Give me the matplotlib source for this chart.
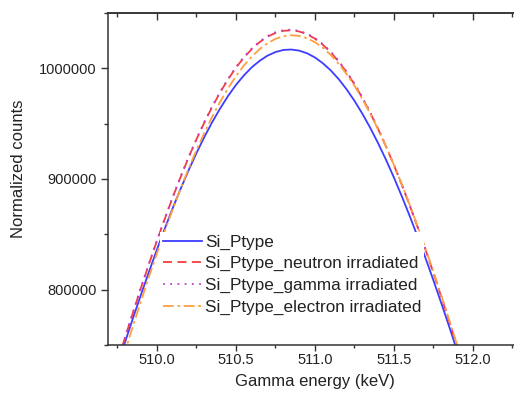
import matplotlib
matplotlib.use("Agg")
import matplotlib.pyplot as plt
from matplotlib.ticker import MultipleLocator, FormatStrFormatter

plt.rcParams['font.family'] = ['Liberation Sans', 'DejaVu Sans']

# gamma energy grid (keV)
energy = [509.70, 509.75, 509.80, 509.85, 509.90, 509.95, 510.00, 510.05,
          510.10, 510.15, 510.20, 510.25, 510.30, 510.35, 510.40, 510.45,
          510.50, 510.55, 510.60, 510.65, 510.70, 510.75, 510.80, 510.85,
          510.90, 510.95, 511.00, 511.05, 511.10, 511.15, 511.20, 511.25,
          511.30, 511.35, 511.40, 511.45, 511.50, 511.55, 511.60, 511.65,
          511.70, 511.75, 511.80, 511.85, 511.90, 511.95, 512.00]

si_ptype = [709300, 731500, 753500, 775100, 796000, 816400, 836300, 855400,
            873800, 891200, 907800, 923400, 938000, 951500, 963800, 975000,
            985000, 993600, 1000900, 1006800, 1011500, 1014700, 1016600, 1017000,
            1016000, 1013600, 1009800, 1004600, 998100, 990300, 981100, 970700,
            959000, 946200, 932300, 917300, 901300, 884300, 866500, 847900,
            828500, 808400, 787700, 766500, 744800, 722700, 700300]

si_neutron = [711600, 734700, 757700, 780100, 802200, 823500, 844300, 864200,
              883600, 901900, 919400, 935800, 951100, 965300, 978300, 990000,
              1000600, 1009700, 1017400, 1023700, 1028600, 1032000, 1033900, 1034400,
              1033300, 1030800, 1026800, 1021300, 1014500, 1006200, 996500, 985600,
              973300, 959700, 945100, 929300, 912400, 894700, 875900, 856400,
              836000, 815000, 793400, 771200, 748600, 725500, 702200]

si_gamma = [712000, 735100, 758100, 780600, 802700, 824000, 844800, 864700,
            884100, 902400, 919900, 936300, 951700, 965900, 978900, 990600,
            1001200, 1010300, 1018000, 1024300, 1029200, 1032600, 1034500, 1035000,
            1033900, 1031400, 1027400, 1021900, 1015100, 1006800, 997100, 986200,
            973900, 960300, 945600, 929800, 912900, 895200, 876400, 856900,
            836500, 815500, 793900, 771600, 749000, 725900, 702600]

si_electron = [699100, 722400, 745400, 768100, 790200, 811900, 832900, 853200,
               872700, 891400, 909300, 926100, 941700, 956400, 969800, 982000,
               992900, 1002500, 1010600, 1017400, 1022700, 1026600, 1029000, 1029900,
               1029300, 1027200, 1023600, 1018600, 1012100, 1004200, 994900, 984300,
               972300, 959100, 944700, 929300, 912700, 895100, 876500, 857200,
               837000, 816200, 794600, 772500, 750000, 727100, 703700]

labels = ["Si_Ptype", "Si_Ptype_neutron irradiated",
          "Si_Ptype_gamma irradiated", "Si_Ptype_electron irradiated"]

fig = plt.figure(figsize=(5.14, 3.96), dpi=100)
ax = fig.add_axes([108/514, 51/396, 406/514, 332/396])

ax.plot(energy, si_ptype, color='#3d3dff', lw=1.3, ls='-', label=labels[0])
ax.plot(energy, si_neutron, color='#f53d3d', lw=1.3, ls=(0, (5, 3)), label=labels[1])
ax.plot(energy, si_gamma, color='#c040c8', lw=1.3, ls=(0, (1, 3)), label=labels[2])
ax.plot(energy, si_electron, color='#ffa040', lw=1.3, ls=(0, (6, 2, 1.5, 2)), label=labels[3])

ax.set_xlim(509.69, 512.26)
ax.set_ylim(750000, 1050000)
ax.xaxis.set_major_locator(MultipleLocator(0.5))
ax.xaxis.set_minor_locator(MultipleLocator(0.25))
ax.yaxis.set_major_locator(MultipleLocator(100000))
ax.yaxis.set_minor_locator(MultipleLocator(50000))
ax.xaxis.set_major_formatter(FormatStrFormatter('%.1f'))
ax.yaxis.set_major_formatter(FormatStrFormatter('%d'))

for s in ['left', 'bottom', 'top']:
    ax.spines[s].set_linewidth(1.1)
    ax.spines[s].set_color('#333333')
ax.spines['right'].set_visible(False)

ax.tick_params(axis='both', which='both', color='#333333', width=1,
               direction='out', labelcolor='#222222', labelsize=10.5)
ax.tick_params(axis='y', which='major', length=5, pad=3)
ax.tick_params(axis='y', which='minor', length=3)
ax.tick_params(axis='x', which='major', length=4, pad=2)
ax.tick_params(axis='x', which='minor', length=2.5)

# top axis: inward ticks, no labels
secx = ax.secondary_xaxis('top')
secx.xaxis.set_major_locator(MultipleLocator(0.5))
secx.xaxis.set_minor_locator(MultipleLocator(0.25))
secx.spines['top'].set_linewidth(1.1)
secx.spines['top'].set_color('#333333')
secx.tick_params(which='both', direction='in', labeltop=False, color='#333333', width=1)
secx.tick_params(which='major', length=5)
secx.tick_params(which='minor', length=3)

ax.set_xlabel('Gamma energy (keV)', fontsize=12, color='#222222')
ax.set_ylabel('Normalized counts', fontsize=12, color='#222222')
ax.xaxis.set_label_coords(0.509, -0.087)
ax.yaxis.set_label_coords(-0.202, 0.53)

leg = ax.legend(loc='upper left', bbox_to_anchor=(0.128, 0.34), borderaxespad=0,
                fontsize=12.3, frameon=True, fancybox=False, framealpha=1,
                edgecolor='none', facecolor='white', handlelength=2.3,
                handletextpad=0.2, labelspacing=0.38, borderpad=0.15)
for t in leg.get_texts():
    t.set_color('#222222')

fig.savefig('out.png', dpi=100)
